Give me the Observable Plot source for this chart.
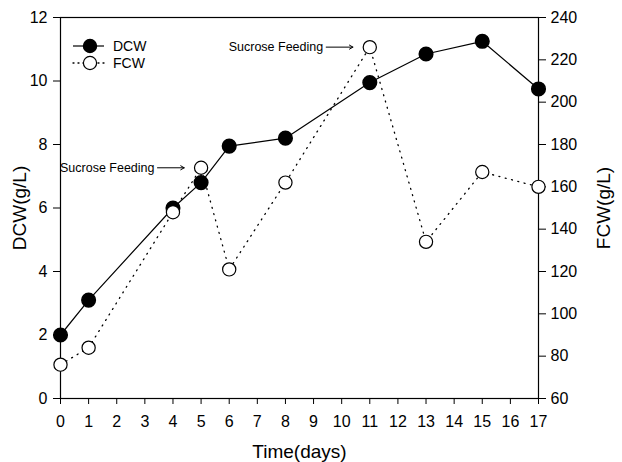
<!DOCTYPE html>
<html>
<head>
<meta charset="utf-8">
<script src="https://cdn.jsdelivr.net/npm/d3@7"></script>
<script src="https://cdn.jsdelivr.net/npm/@observablehq/plot@0.6"></script>
<style>
  html, body { margin: 0; padding: 0; background: #fff; }
  #chart svg { display: block; }
</style>
</head>
<body>
<div id="chart"></div>
<script>
// Culture time course: dry cell weight (left axis) and fresh cell weight (right axis)
const days = [0, 1, 4, 5, 6, 8, 11, 13, 15, 17];
const dcw  = [2.0, 3.1, 6.0, 6.8, 7.95, 8.2, 9.95, 10.85, 11.25, 9.75];
const fcw  = [76, 84, 148, 169, 121, 162, 226, 134, 167, 160];

const dayTicks = d3.range(0, 18);
const dcwTicks = [0, 2, 4, 6, 8, 10, 12];
const fcwTicks = [60, 80, 100, 120, 140, 160, 180, 200, 220, 240];

// Sucrose feeding events (marked on the FCW series)
const feedDays = [5, 11];
const feedLabel = "Sucrose Feeding";

// FCW shares the y scale: 60–240 g/L maps onto 0–12 g/L
const fcwMin = 60, fcwMax = 240, dcwMax = 12;
const toDcw = v => (v - fcwMin) / (fcwMax - fcwMin) * dcwMax;
const fromDcw = v => Math.round(v / dcwMax * (fcwMax - fcwMin) + fcwMin);

const rows = days.map((d, i) => ({day: d, dcw: dcw[i], fcw: toDcw(fcw[i])}));
const feeds = feedDays.map(d => {
  const r = rows.find(r => r.day === d);
  return {day: d, y: r.fcw, x1: d - 1.55, x2: d - 0.6};
});

const font = "'Liberation Sans', Arial, Helvetica, sans-serif";

const plot = Plot.plot({
  width: 622,
  height: 462,
  marginLeft: 60,
  marginRight: 84,
  marginTop: 17,
  marginBottom: 64,
  style: {fontFamily: font, fontSize: "16px", color: "#000", background: "#fff"},
  x: {domain: [0, 17], label: null},
  y: {domain: [0, 12], label: null},
  marks: [
    Plot.frame({stroke: "#000", strokeWidth: 1.2}),
    Plot.axisX({ticks: dayTicks, tickSize: 6, tickPadding: 11, fontSize: 16, label: null}),
    Plot.axisY({ticks: dcwTicks, tickSize: 7, tickPadding: 6, fontSize: 16, label: null}),
    Plot.axisY({anchor: "right", ticks: fcwTicks.map(toDcw), tickFormat: fromDcw,
                tickSize: 7, tickPadding: 5, fontSize: 16, label: null}),
    // axis titles
    Plot.text(["DCW(g/L)"], {frameAnchor: "left", text: d => d, rotate: -90, dx: -41,
                             fontSize: 19, textAnchor: "middle"}),
    Plot.text(["FCW(g/L)"], {frameAnchor: "right", text: d => d, rotate: -90, dx: 65,
                             fontSize: 19, textAnchor: "middle"}),
    Plot.text(["Time(days)"], {frameAnchor: "bottom", text: d => d, dy: 59,
                               fontSize: 19, textAnchor: "middle"}),
    // series
    Plot.line(rows, {x: "day", y: "dcw", stroke: "#000", strokeWidth: 1.2}),
    Plot.line(rows, {x: "day", y: "fcw", stroke: "#000", strokeWidth: 1.3,
                     strokeDasharray: "1,5.5", strokeLinecap: "round"}),
    Plot.dot(rows, {x: "day", y: "dcw", r: 6.8, fill: "#000", stroke: "#000"}),
    Plot.dot(rows, {x: "day", y: "fcw", r: 6.6, fill: "#fff", stroke: "#000", strokeWidth: 1.2}),
    // feeding annotations
    Plot.arrow(feeds, {x1: "x1", x2: "x2", y1: "y", y2: "y", stroke: "#000",
                       strokeWidth: 1, headLength: 6}),
    Plot.text(feeds, {x: "x1", y: "y", text: () => feedLabel, textAnchor: "end",
                      dx: -3, fontSize: 12.5})
  ]
});

// legend in the upper-left corner of the frame
const svg = d3.select(plot);
const lg = svg.append("g").attr("font-family", font).attr("font-size", 14)
  .attr("text-anchor", "start");
const entries = [
  {name: "DCW", fill: "#000", dash: null, y: 46},
  {name: "FCW", fill: "#fff", dash: "1,4", y: 63}
];
for (const e of entries) {
  lg.append("line").attr("x1", 73).attr("x2", 104).attr("y1", e.y).attr("y2", e.y)
    .attr("stroke", "#000").attr("stroke-width", e.dash ? 1.3 : 1.2)
    .attr("stroke-dasharray", e.dash).attr("stroke-linecap", e.dash ? "round" : null);
  lg.append("circle").attr("cx", 90).attr("cy", e.y).attr("r", 6.6)
    .attr("fill", e.fill).attr("stroke", "#000").attr("stroke-width", 1.2);
  lg.append("text").attr("x", 113).attr("y", e.y).attr("dy", "0.35em").text(e.name);
}

document.getElementById("chart").appendChild(plot);
</script>
</body>
</html>
